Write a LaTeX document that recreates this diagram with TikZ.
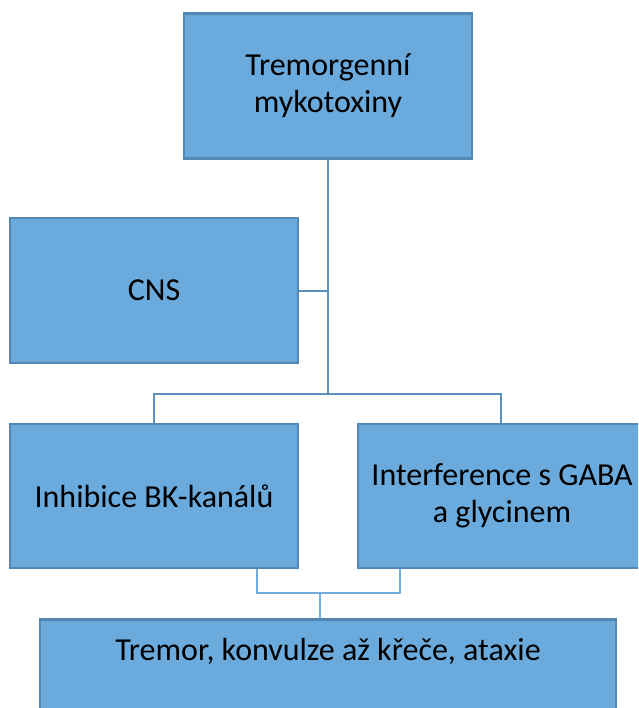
\documentclass[tikz,border=0pt]{standalone}
\usepackage{fontspec}
\setmainfont{Carlito}
\definecolor{boxfill}{RGB}{107,170,220}
\definecolor{boxline}{RGB}{84,134,178}
\definecolor{linkdark}{RGB}{92,143,188}
\definecolor{linklight}{RGB}{112,172,222}
\tikzset{
  box/.style={draw=boxline, fill=boxfill, line width=2.5pt, rectangle,
    minimum width=288pt, minimum height=145pt, inner sep=0pt,
    align=center, font=\fontsize{32}{37}\selectfont, text=black},
  label text/.style={inner sep=0pt, align=center,
    font=\fontsize{32}{37}\selectfont, text=black},
  upper link/.style={draw=linkdark, line width=2.6pt},
  lower link/.style={draw=linklight, line width=2.4pt},
}
\begin{document}
\begin{tikzpicture}[x=1pt, y=-1pt]
  \useasboundingbox (0,0) rectangle (638,708);
  \clip (0,0) rectangle (638,708);
  % boxes
  \node[box] (top) at (328,86) {Tremorgenní\\mykotoxiny};
  \node[box] (cns) at (154,290.5) {CNS};
  \node[box, minimum height=144pt] (bk) at (154,496) {Inhibice BK-kanálů};
  \node[box, minimum height=144pt] (gaba) at (502,496) {Interference s GABA\\a glycinem};
  \node[box, minimum width=576pt, minimum height=144pt, anchor=north] (res) at (328,618) {};
  \node[label text] (restext) at (328,651) {Tremor, konvulze až křeče, ataxie};
  % junction points
  \coordinate (hub) at (328,394);
  \coordinate (cnsjoin) at (328,291);
  \coordinate (bkdrop) at (154,394);
  \coordinate (gabadrop) at (501,394);
  \coordinate (bkout) at (257,593);
  \coordinate (gabaout) at (400,593);
  \coordinate (resin) at (320,593);
  % upper connectors
  \draw[upper link] (top.south) -- (hub);
  \draw[upper link] (cns.east |- cnsjoin) -- (cnsjoin);
  \draw[upper link] (bk.north) -- (bkdrop) -- (gabadrop) -- (gaba.north -| gabadrop);
  % lower connectors
  \draw[lower link] (bk.south -| bkout) -- (bkout) -- (gabaout) -- (gaba.south -| gabaout);
  \draw[lower link] (resin) -- (res.north -| resin);
\end{tikzpicture}
\end{document}
